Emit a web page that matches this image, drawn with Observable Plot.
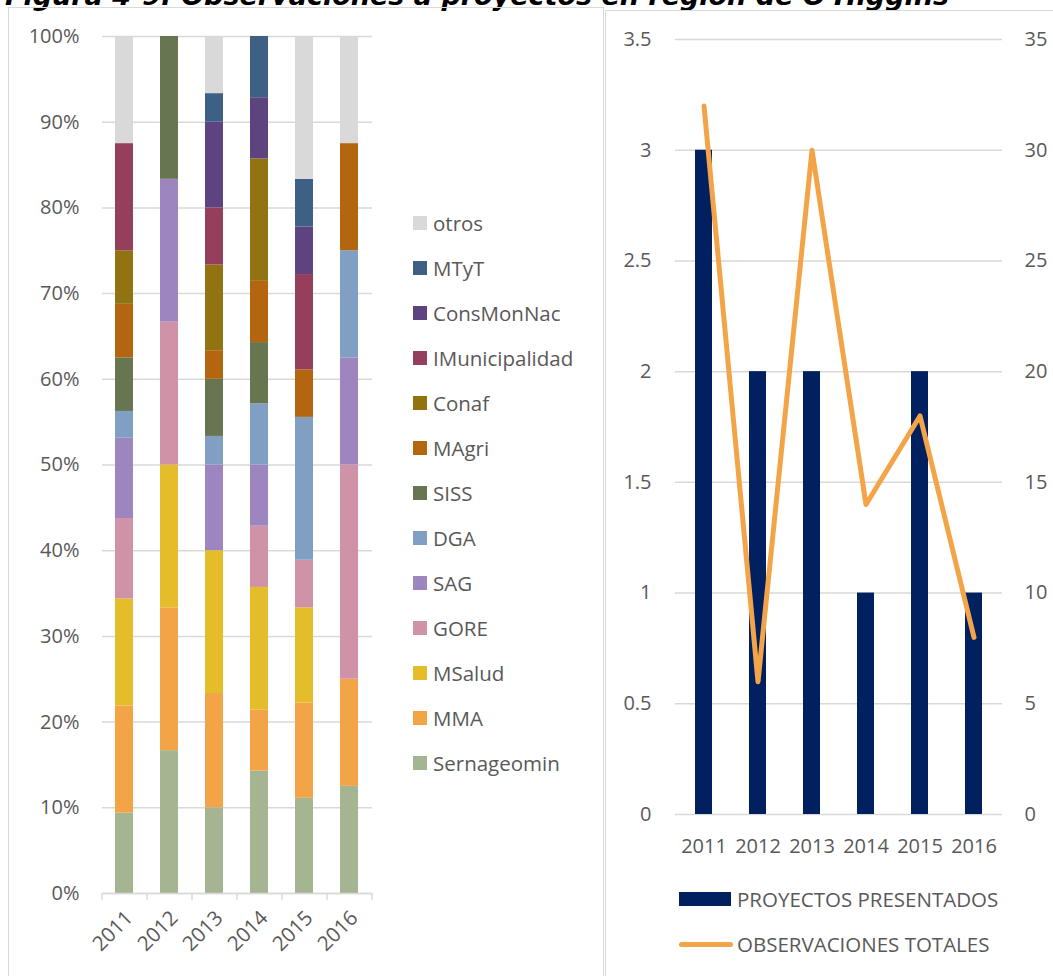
<!DOCTYPE html>
<html>
<head>
<meta charset="utf-8">
<script src="https://cdn.jsdelivr.net/npm/d3@7"></script>
<script src="https://cdn.jsdelivr.net/npm/@observablehq/plot@0.6"></script>
<style>
html,body{margin:0;padding:0;background:#fff;overflow:hidden;}
body{width:1053px;height:976px;position:relative;font-family:"Open Sans",sans-serif;color:#595959;}
#title{position:absolute;left:5px;top:-18px;font:bold italic 27px/27px "DejaVu Sans",sans-serif;color:#000;white-space:nowrap;}
.panel{position:absolute;border:1.5px solid #d9d9d9;box-sizing:border-box;background:transparent;}
.chart{position:absolute;top:0;}
.leg{position:absolute;font-size:20.5px;color:#595959;white-space:nowrap;}
.row{position:absolute;left:0;height:45px;display:flex;align-items:center;}
.sw{width:14px;height:14px;margin-right:6px;flex:none;}
</style>
</head>
<body>
<div id="title">Figura 4-9: Observaciones a proyectos en región de O'Higgins</div>
<div class="panel" style="left:8px;top:7px;width:596px;height:1000px;"></div>
<div class="panel" style="left:605px;top:10px;width:500px;height:1000px;"></div>
<div id="left" class="chart" style="left:0;"></div>
<div id="legendLeft" class="leg" style="left:413px;top:200px;"></div>
<div id="right" class="chart" style="left:600px;"></div>
<div id="legendRight" class="leg" style="left:679px;top:876px;"></div>
<script>
// ---- data ----
const years = ["2011", "2012", "2013", "2014", "2015", "2016"];
// agencies, bottom of the stack first
const agencies = ["Sernageomin", "MMA", "MSalud", "GORE", "SAG", "DGA", "SISS", "MAgri", "Conaf", "IMunicipalidad", "ConsMonNac", "MTyT", "otros"];
const agencyColors = ["#A5B592", "#F3A447", "#E5BC2A", "#D092A7", "#9D86C0", "#809FC2", "#677650", "#B3650F", "#917312", "#963F5C", "#5D4480", "#3E6085", "#D9D9D9"];
// observation counts per agency and year
const sernageomin    = [3, 1, 3, 2, 2, 1];
const mma            = [4, 1, 4, 1, 2, 1];
const msalud         = [4, 1, 5, 2, 2, 0];
const gore           = [3, 1, 0, 1, 1, 2];
const sag            = [3, 1, 3, 1, 0, 1];
const dga            = [1, 0, 1, 1, 3, 1];
const siss           = [2, 1, 2, 1, 0, 0];
const magri          = [2, 0, 1, 1, 1, 1];
const conaf          = [2, 0, 3, 2, 0, 0];
const imunicipalidad = [4, 0, 2, 0, 2, 0];
const consmonnac     = [0, 0, 3, 1, 1, 0];
const mtyt           = [0, 0, 1, 1, 1, 0];
const otros          = [4, 0, 2, 0, 3, 1];
const agencySeries = [sernageomin, mma, msalud, gore, sag, dga, siss, magri, conaf, imunicipalidad, consmonnac, mtyt, otros];

const proyectosPresentados = [3, 2, 2, 1, 2, 1];
const observacionesTotales = [32, 6, 30, 14, 18, 8];

const pctTicks = [0, 0.1, 0.2, 0.3, 0.4, 0.5, 0.6, 0.7, 0.8, 0.9, 1];
const leftTicks = [0, 0.5, 1, 1.5, 2, 2.5, 3, 3.5];
const rightTickLabels = ["0", "5", "10", "15", "20", "25", "30", "35"];
const secondaryRatio = 35 / 3.5;

const barLabel = "PROYECTOS PRESENTADOS";
const lineLabel = "OBSERVACIONES TOTALES";
const barColor = "#002060";
const lineColor = "#F4A448";
const gridColor = "#D9D9D9";
const textColor = "#595959";

// ---- left chart: 100% stacked bars ----
const rows = [];
agencies.forEach((a, k) => years.forEach((y, i) => {
  if (agencySeries[k][i] > 0) rows.push({year: y, agency: a, count: agencySeries[k][i]});
}));

const leftW = 400, leftH = 976;
const lm = {l: 102, r: 28, t: 36, b: 83};
const halfStep = (leftW - lm.l - lm.r) / years.length / 2;

const left = Plot.plot({
  width: leftW, height: leftH,
  marginLeft: lm.l, marginRight: lm.r, marginTop: lm.t, marginBottom: lm.b,
  style: {fontFamily: "Open Sans, sans-serif", fontSize: "20px", color: textColor, background: "transparent", overflow: "visible"},
  x: {domain: years, paddingInner: 0.6, paddingOuter: 0.3, label: null},
  y: {domain: [0, 1], label: null},
  color: {domain: agencies, range: agencyColors},
  marks: [
    Plot.gridY(pctTicks, {stroke: gridColor, strokeOpacity: 1, strokeWidth: 1.5}),
    Plot.barY(rows, Plot.stackY({offset: "normalize", x: "year", y: "count", fill: "agency"})),
    Plot.ruleY([0], {stroke: gridColor, strokeWidth: 1.5}),
    Plot.ruleX(years, {x: d => d, y1: 0, y2: -0.008, dx: -halfStep, stroke: gridColor, strokeWidth: 1.5}),
    Plot.ruleX([years[years.length - 1]], {x: d => d, y1: 0, y2: -0.008, dx: halfStep, stroke: gridColor, strokeWidth: 1.5}),
    Plot.axisY(pctTicks, {tickFormat: d3.format(".0%"), tickSize: 0, tickPadding: 23, label: null}),
    Plot.axisX({tickRotate: -45, tickSize: 0, tickPadding: 21, dx: 5, fontSize: 20.5, label: null})
  ]
});
document.getElementById("left").appendChild(left);

// left legend (top to bottom = reverse stacking order)
const legL = document.getElementById("legendLeft");
agencies.slice().reverse().forEach((a, i) => {
  const k = agencies.indexOf(a);
  const r = document.createElement("div");
  r.className = "row";
  r.style.top = (i * 45) + "px";
  r.innerHTML = `<span class="sw" style="background:${agencyColors[k]}"></span><span>${a}</span>`;
  legL.appendChild(r);
});

// ---- right chart: bars + line on secondary axis ----
const combo = years.map((y, i) => ({year: y, proyectos: proyectosPresentados[i], obs: observacionesTotales[i]}));

const right = Plot.plot({
  width: 453, height: 976,
  marginLeft: 75, marginRight: 51, marginTop: 39, marginBottom: 162,
  style: {fontFamily: "Open Sans, sans-serif", fontSize: "20px", color: textColor, background: "transparent", overflow: "visible"},
  x: {domain: years, paddingInner: 0.69, paddingOuter: 0.345, label: null},
  y: {domain: [0, 3.5], label: null},
  marks: [
    Plot.gridY(leftTicks, {stroke: gridColor, strokeOpacity: 1, strokeWidth: 1.5}),
    Plot.barY(combo, {x: "year", y: "proyectos", fill: barColor}),
    Plot.line(combo, {x: "year", y: d => d.obs / secondaryRatio, stroke: lineColor, strokeWidth: 5, strokeLinecap: "round", strokeLinejoin: "round"}),
    Plot.axisY(leftTicks, {anchor: "left", tickSize: 0, tickPadding: 24, tickFormat: d => String(d), label: null}),
    Plot.axisY(leftTicks, {anchor: "right", tickSize: 0, tickPadding: 22, tickFormat: (d, i) => rightTickLabels[i], label: null}),
    Plot.axisX({tickSize: 0, tickPadding: 24, label: null})
  ]
});
document.getElementById("right").appendChild(right);

const legR = document.getElementById("legendRight");
legR.innerHTML = `
  <div class="row" style="top:0;height:46px;"><span style="display:inline-block;width:52px;height:14px;background:${barColor};margin-right:6px;"></span><span>${barLabel}</span></div>
  <div class="row" style="top:45px;height:46px;"><span style="display:inline-block;width:54px;height:5px;border-radius:3px;background:${lineColor};margin-right:4px;"></span><span>${lineLabel}</span></div>`;
</script>
</body>
</html>
